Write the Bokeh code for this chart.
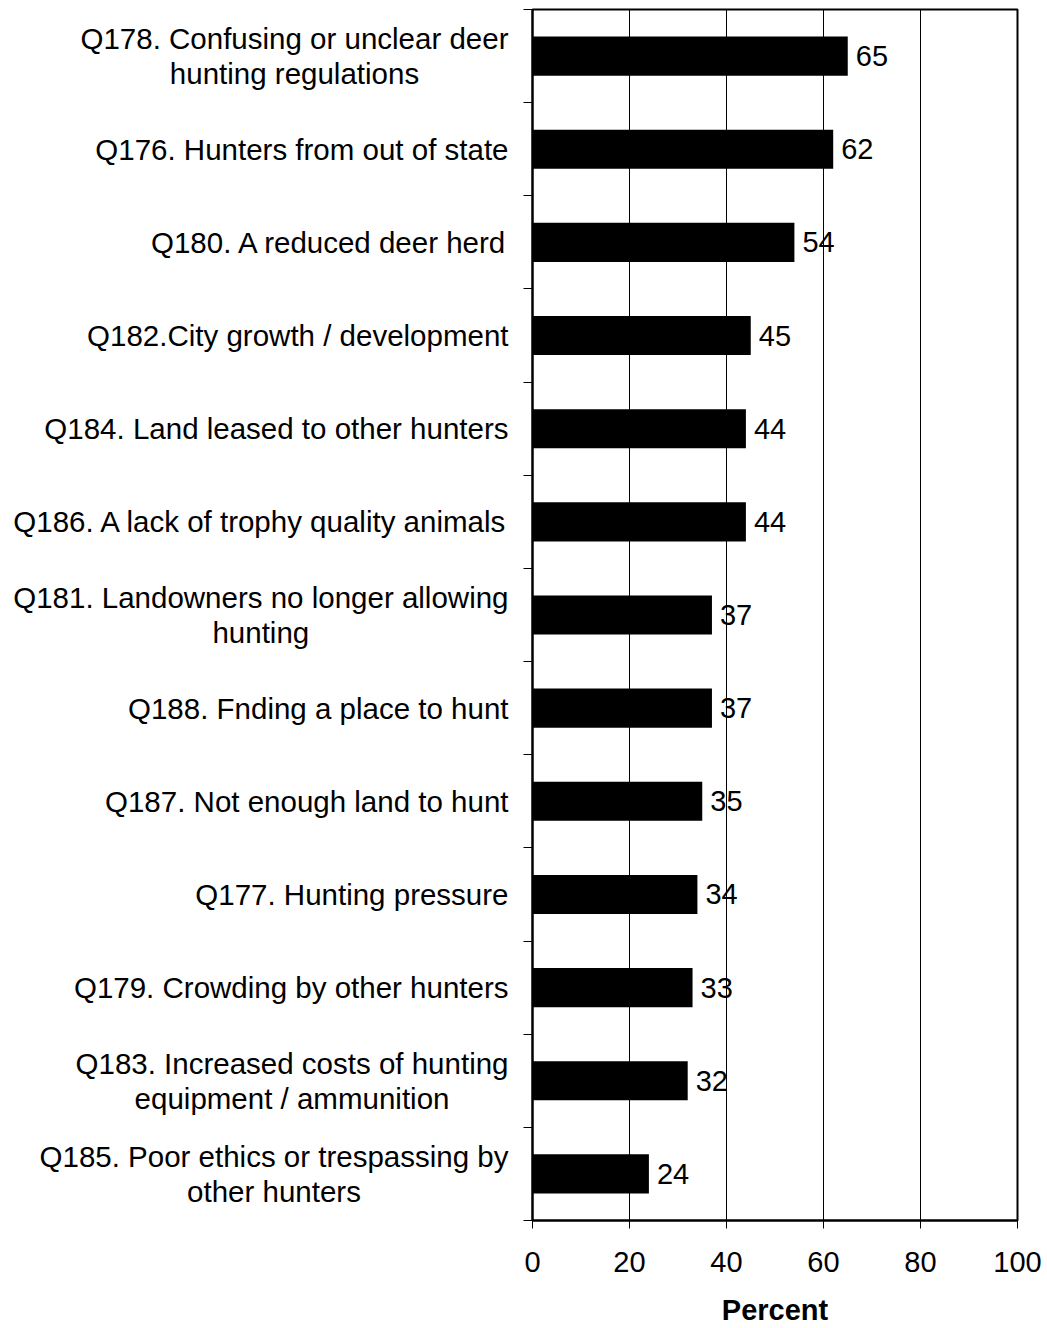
import glob
import struct

from bokeh.plotting import figure
from bokeh.layouts import row
from bokeh.models import (FactorRange, Range1d, LinearAxis, FixedTicker,
                          ColumnDataSource)
from bokeh.embed import file_html
from bokeh.resources import INLINE
from bokeh.core.properties import value

# ---------------- data ----------------
categories = [
    "Q178. Confusing or unclear deer\nhunting regulations",
    "Q176. Hunters from out of state",
    "Q180. A reduced deer herd",
    "Q182.City growth / development",
    "Q184. Land leased to other hunters",
    "Q186. A lack of trophy quality animals",
    "Q181. Landowners no longer allowing\nhunting",
    "Q188. Fnding a place to hunt",
    "Q187. Not enough land to hunt",
    "Q177. Hunting pressure",
    "Q179. Crowding by other hunters",
    "Q183. Increased costs of hunting\nequipment / ammunition",
    "Q185. Poor ethics or trespassing by\nother hunters",
]
values = [65, 62, 54, 45, 44, 44, 37, 37, 35, 34, 33, 32, 24]
x_ticks = [0, 20, 40, 60, 80, 100]
x_label = "Percent"

FONT = "Liberation Sans"
CAT_SIZE = 29.5
TICK_SIZE = "29px"

TOTAL_W = 1047
TOTAL_H = 1328
LABEL_FIG_W = 512      # canvas holding the category labels
LABEL_PAD = 4          # gap between label block and right edge of that canvas
TOP = 9
BOTTOM = 108


# ---------------- text width measurement (for centred multi-line labels) ----
def make_measurer():
    paths = []
    for root in ("/usr/share/fonts", "/usr/local/share/fonts", "/usr/share"):
        paths += glob.glob(root + "/**/LiberationSans-Regular.ttf", recursive=True)
        if paths:
            break
    if not paths:
        return lambda s, size: 0.52 * size * len(s)
    data = open(paths[0], "rb").read()
    num_tables = struct.unpack(">H", data[4:6])[0]
    tables = {}
    for i in range(num_tables):
        tag, _cs, off, ln = struct.unpack(">4sIII", data[12 + 16 * i:28 + 16 * i])
        tables[tag.decode("latin-1")] = off
    head = tables["head"]
    upem = struct.unpack(">H", data[head + 18:head + 20])[0]
    hhea = tables["hhea"]
    nhm = struct.unpack(">H", data[hhea + 34:hhea + 36])[0]
    hmtx = tables["hmtx"]
    adv = [struct.unpack(">H", data[hmtx + 4 * i:hmtx + 4 * i + 2])[0] for i in range(nhm)]
    cmap = tables["cmap"]
    n = struct.unpack(">H", data[cmap + 2:cmap + 4])[0]
    sub = None
    for i in range(n):
        pid, eid, off = struct.unpack(">HHI", data[cmap + 4 + 8 * i:cmap + 12 + 8 * i])
        if pid == 3 and eid == 1:
            sub = cmap + off
    if sub is None or struct.unpack(">H", data[sub:sub + 2])[0] != 4:
        return lambda s, size: 0.52 * size * len(s)
    segx2 = struct.unpack(">H", data[sub + 6:sub + 8])[0]
    seg = segx2 // 2
    ends = struct.unpack(">%dH" % seg, data[sub + 14:sub + 14 + segx2])
    so = sub + 16 + segx2
    starts = struct.unpack(">%dH" % seg, data[so:so + segx2])
    do = so + segx2
    deltas = struct.unpack(">%dh" % seg, data[do:do + segx2])
    ro = do + segx2
    ros = struct.unpack(">%dH" % seg, data[ro:ro + segx2])

    def gid(c):
        for i in range(seg):
            if starts[i] <= c <= ends[i]:
                if ros[i] == 0:
                    return (c + deltas[i]) & 0xFFFF
                addr = ro + 2 * i + ros[i] + 2 * (c - starts[i])
                g = struct.unpack(">H", data[addr:addr + 2])[0]
                return (g + deltas[i]) & 0xFFFF if g else 0
        return 0

    def width(s, size):
        tot = 0
        for ch in s:
            g = gid(ord(ch))
            tot += adv[min(g, nhm - 1)]
        return tot * size / upem

    return width


measure = make_measurer()
offsets = [-(LABEL_PAD + max(measure(line, CAT_SIZE) for line in c.split("\n")) / 2.0)
           for c in categories]

source = ColumnDataSource(dict(
    cats=categories,
    vals=values,
    vtext=[str(v) for v in values],
    right_edge=[LABEL_FIG_W] * len(categories),
    xoff=offsets,
))

y_range = FactorRange(factors=categories[::-1])

# ---------------- main chart ----------------
p = figure(
    width=TOTAL_W - LABEL_FIG_W, height=TOTAL_H,
    x_range=Range1d(0, 100),
    y_range=y_range,
    output_backend="svg", toolbar_location=None,
    y_axis_location=None,
    min_border_left=20, min_border_right=30,
    min_border_top=TOP, min_border_bottom=BOTTOM,
)
p.background_fill_color = "white"
p.border_fill_color = "white"
p.outline_line_color = "black"
p.outline_line_width = 2

p.hbar(y="cats", right="vals", left=0, height=0.42, source=source,
       fill_color="black", line_color=None)

p.text(x="vals", y="cats", text="vtext", source=source, x_offset=8,
       text_align="left", text_baseline="middle",
       text_font=value(FONT), text_font_size=TICK_SIZE, text_color="black")

# left axis: ticks on category boundaries
left_axis = LinearAxis(ticker=FixedTicker(ticks=list(range(len(categories) + 1))))
left_axis.major_tick_in = 0
left_axis.major_tick_out = 9
left_axis.major_tick_line_color = "black"
left_axis.major_tick_line_width = 1
left_axis.minor_tick_line_color = None
left_axis.axis_line_color = "black"
left_axis.axis_line_width = 2
left_axis.major_label_text_font_size = "0px"
left_axis.major_label_text_alpha = 0
left_axis.major_label_standoff = 0
p.add_layout(left_axis, "left")

# bottom axis
xa = p.xaxis[0]
xa.ticker = FixedTicker(ticks=x_ticks)
xa.major_tick_in = 0
xa.major_tick_out = 8
xa.major_tick_line_color = "black"
xa.major_tick_line_width = 1
xa.minor_tick_line_color = None
xa.axis_line_color = "black"
xa.axis_line_width = 2
xa.major_label_text_font = FONT
xa.major_label_text_font_size = TICK_SIZE
xa.major_label_text_color = "black"
xa.major_label_standoff = 23
xa.axis_label = x_label
xa.axis_label_text_font = FONT
xa.axis_label_text_font_size = TICK_SIZE
xa.axis_label_text_font_style = "bold"
xa.axis_label_text_color = "black"
xa.axis_label_standoff = 19

p.xgrid.ticker = FixedTicker(ticks=x_ticks)
p.xgrid.grid_line_color = "black"
p.xgrid.grid_line_width = 1
p.ygrid.grid_line_color = None

# ---------------- category label panel (shares the y scale) ----------------
pl = figure(
    width=LABEL_FIG_W, height=TOTAL_H,
    x_range=Range1d(0, LABEL_FIG_W),
    y_range=y_range,
    output_backend="svg", toolbar_location=None,
    x_axis_location=None, y_axis_location=None,
    min_border_left=0, min_border_right=0,
    min_border_top=TOP, min_border_bottom=BOTTOM,
)
pl.outline_line_color = None
pl.background_fill_color = "white"
pl.border_fill_color = "white"
pl.xgrid.visible = False
pl.ygrid.visible = False
pl.text(x="right_edge", y="cats", text="cats", source=source, x_offset="xoff",
        text_align="center", text_baseline="middle",
        text_font=value(FONT), text_font_size="%gpx" % CAT_SIZE,
        text_color="black", text_line_height=1.07)

layout = row(pl, p, spacing=0)

open("out.html", "w").write(file_html(layout, INLINE))
